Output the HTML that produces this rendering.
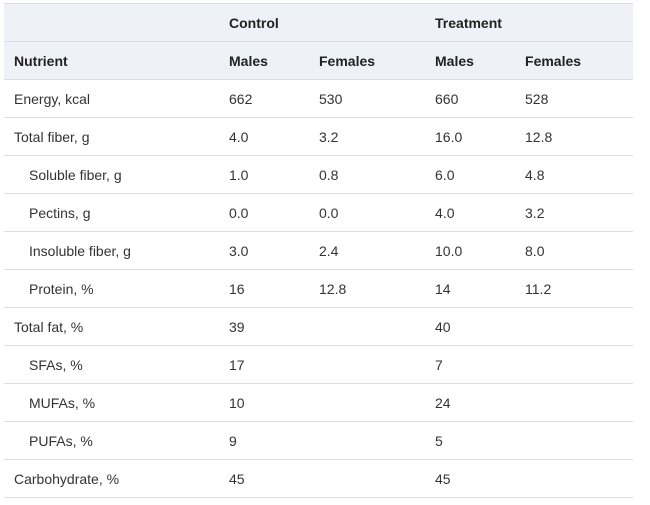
<!DOCTYPE html>
<html><head><meta charset="utf-8"><style>
html,body{margin:0;padding:0;background:#fff;width:650px;height:505px;overflow:hidden}
*{box-sizing:border-box}
table{position:absolute;left:4px;top:3px;width:629px;table-layout:fixed;border-collapse:collapse;font-family:"Liberation Sans",Arial,sans-serif;font-size:14px;color:#333}
td,th{height:38px;padding:0;border-top:1px solid #d9dde3;text-align:left;font-weight:normal;vertical-align:middle;white-space:nowrap}
thead th{background:#eef1f6;font-weight:bold;color:#222}
tbody tr:last-child td{border-bottom:1px solid #d9dde3}
.c0{padding-left:10px}
.ind{padding-left:25px}
</style></head><body>
<table>
<colgroup><col style="width:225px"><col style="width:90px"><col style="width:116px"><col style="width:90px"><col style="width:108px"></colgroup>
<thead>
<tr><th class="c0"></th><th colspan="2">Control</th><th colspan="2">Treatment</th></tr>
<tr><th class="c0">Nutrient</th><th>Males</th><th>Females</th><th>Males</th><th>Females</th></tr>
</thead>
<tbody>
<tr><td class="c0">Energy, kcal</td><td>662</td><td>530</td><td>660</td><td>528</td></tr>
<tr><td class="c0">Total fiber, g</td><td>4.0</td><td>3.2</td><td>16.0</td><td>12.8</td></tr>
<tr><td class="c0 ind">Soluble fiber, g</td><td>1.0</td><td>0.8</td><td>6.0</td><td>4.8</td></tr>
<tr><td class="c0 ind">Pectins, g</td><td>0.0</td><td>0.0</td><td>4.0</td><td>3.2</td></tr>
<tr><td class="c0 ind">Insoluble fiber, g</td><td>3.0</td><td>2.4</td><td>10.0</td><td>8.0</td></tr>
<tr><td class="c0 ind">Protein, %</td><td>16</td><td>12.8</td><td>14</td><td>11.2</td></tr>
<tr><td class="c0">Total fat, %</td><td>39</td><td></td><td>40</td><td></td></tr>
<tr><td class="c0 ind">SFAs, %</td><td>17</td><td></td><td>7</td><td></td></tr>
<tr><td class="c0 ind">MUFAs, %</td><td>10</td><td></td><td>24</td><td></td></tr>
<tr><td class="c0 ind">PUFAs, %</td><td>9</td><td></td><td>5</td><td></td></tr>
<tr><td class="c0">Carbohydrate, %</td><td>45</td><td></td><td>45</td><td></td></tr>
</tbody>
</table>
</body></html>
